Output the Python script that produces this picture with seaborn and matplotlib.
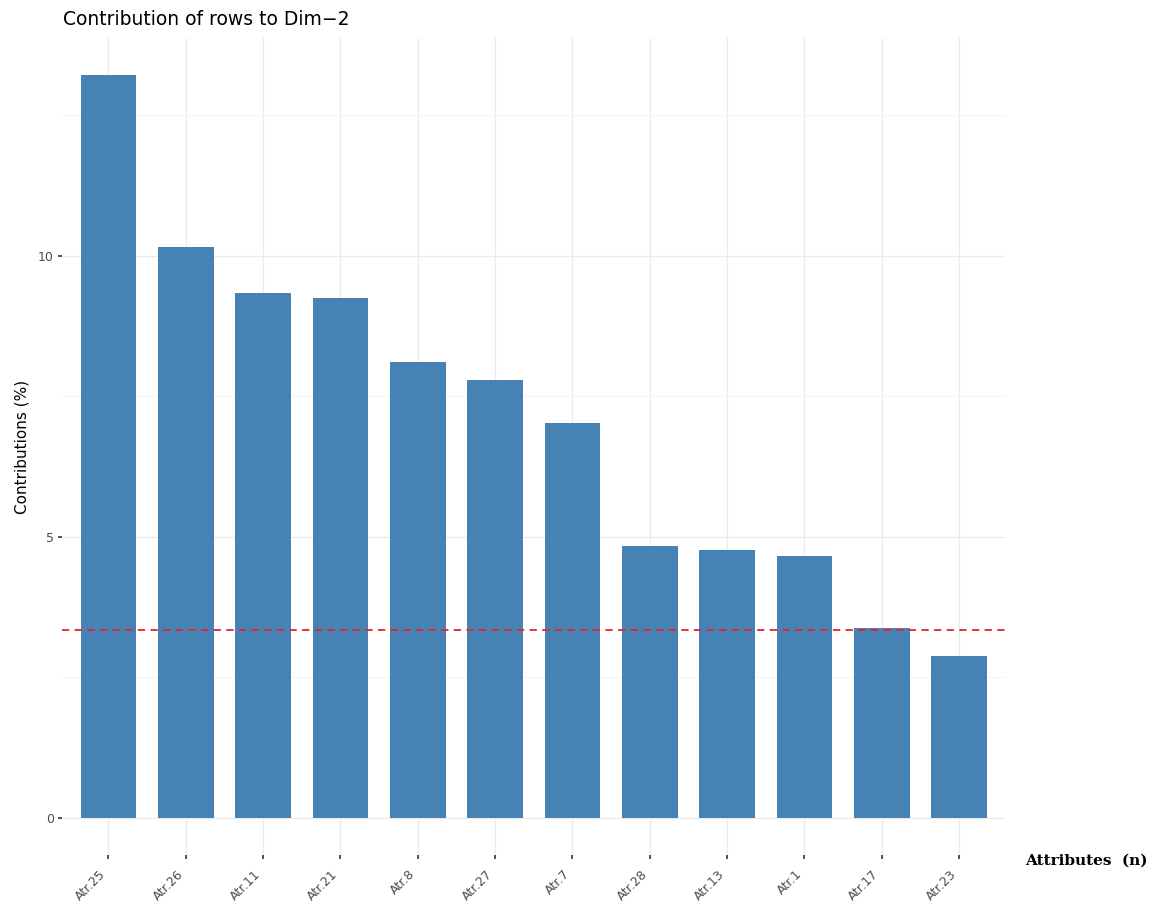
import matplotlib
matplotlib.use("Agg")
import matplotlib.pyplot as plt
import seaborn as sns
import pandas as pd
import numpy as np

categories = ["Atr.25", "Atr.26", "Atr.11", "Atr.21", "Atr.8", "Atr.27", "Atr.7",
              "Atr.28", "Atr.13", "Atr.1", "Atr.17", "Atr.23"]
contrib = [13.21, 10.16, 9.34, 9.24, 8.10, 7.78, 7.03, 4.83, 4.76, 4.65, 3.37, 2.88]
expected = 100 / 30

df = pd.DataFrame({"attr": categories, "contrib": contrib})

sns.set_theme(style="white")
plt.rcParams['font.family'] = ['DejaVu Sans']

fig = plt.figure(figsize=(11.51, 9.01), dpi=100)
ax = fig.add_axes([0.0539, 0.051, 0.8196, 0.907])

grid_c = "#EBEBEB"
ax.set_axisbelow(True)

sns.barplot(data=df, x="attr", y="contrib", color="#4682B4", saturation=1,
            width=0.72, ax=ax, edgecolor="none", zorder=2)

ax.axhline(expected, color="#E8212B", linestyle=(0, (4, 3)), linewidth=1.3, zorder=3)

n = len(categories)
ax.set_xlim(-0.6, n - 1 + 0.6)
ymax = max(contrib)
ax.set_ylim(-0.05 * ymax, ymax * 1.05)

ax.set_yticks([0, 5, 10])
ax.set_yticks([2.5, 7.5, 12.5], minor=True)
ax.grid(True, which="major", axis="both", color=grid_c, linewidth=1.0, zorder=0)
ax.grid(True, which="minor", axis="y", color="#F4F4F4", linewidth=0.8, zorder=0)

for s in ax.spines.values():
    s.set_visible(False)

ax.tick_params(axis="both", which="major", length=3, width=1.2, color="#333333",
               labelsize=9, labelcolor="#4D4D4D", pad=3)
ax.tick_params(axis="x", which="major", bottom=True, pad=6)
ax.tick_params(axis="y", which="major", left=True)
ax.tick_params(which="minor", length=0)

ax.set_xticks(range(n))
ax.set_xticklabels(categories, rotation=45, ha="right")

ax.set_xlabel("")
ax.set_ylabel("Contributions (%)", fontsize=11, color="black", labelpad=6)

fig.text(0.055, 0.978, "Contribution of rows to Dim\u22122", fontsize=13.5, color="black",
         ha="left", va="center")
fig.text(0.891, 0.045, "Attributes  (n)", fontsize=11, color="black",
         family="DejaVu Serif", fontweight="bold", ha="left", va="center")

fig.savefig("out.png", dpi=100)
